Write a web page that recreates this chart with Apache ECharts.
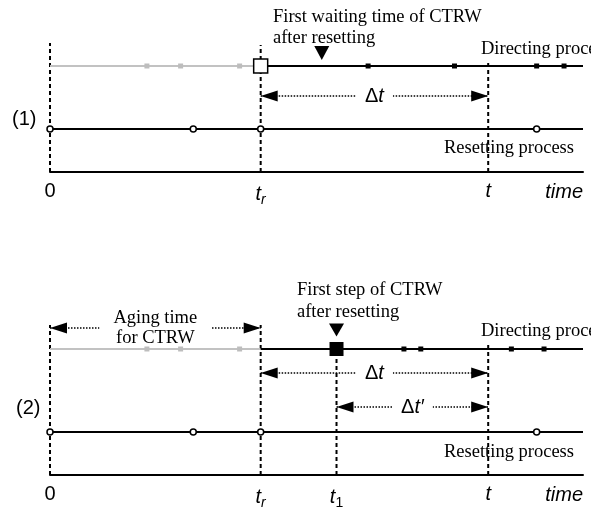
<!DOCTYPE html>
<html>
<head>
<meta charset="utf-8">
<script src="https://cdn.jsdelivr.net/npm/echarts@6/dist/echarts.min.js"></script>
<style>
  html, body { margin: 0; padding: 0; background: #fff; }
  #chart { width: 591px; height: 510px; }
</style>
</head>
<body>
<div id="chart"></div>
<script>
// times on the horizontal axis (arbitrary units, resetting at tReset)
const tStart = 0;
const tReset = 10;
const tFirst = 13.6;
const tObs = 20.8;
const tEnd = 25.3;

// steps of the directing process before resetting (grey, same in both panels)
const preResetSteps = [4.6, 6.2, 9.0];
// steps after resetting
const stepsAfter1 = [15.1, 19.2, 23.1, 24.4];
const stepsAfter2 = [16.8, 17.6, 21.9, 23.45];
// resetting events
const resetEvents = [0, 6.8, 10, 23.1];
// pointer to the first waiting time (panel 1)
const firstWaitMark = 12.9;

// tick labels under each time line
const tickValues1 = [tStart, tReset, tObs];
const tickLabels1 = ['0', '{i|t}{s|r}', '{i|t}'];
const tickValues2 = [tStart, tReset, tFirst, tObs];
const tickLabels2 = ['0', '{i|t}{s|r}', '{i|t}{u|1}', '{i|t}'];

// layout: row heights in px above each panel's time axis
const rows1 = { dir: 106, reset: 43, dt: 76, mark: 119, top0: 129, topR: 127, topT: 109 };
const rows2 = { dir: 126, reset: 43, dt: 102, dtp: 68, aging: 147, mark: 145, top0: 150, topR: 150, top1: 126, topT: 130 };

const SANS = '"Liberation Sans", Arial, sans-serif';
const SERIF = '"Liberation Serif", "Times New Roman", serif';

const chart = echarts.init(document.getElementById('chart'));

function xAxisFor(gridIndex, values, labels) {
    return {
        type: 'value', gridIndex, min: 0, max: tEnd,
        axisLine: { show: true, lineStyle: { color: '#000', width: 2 } },
        axisTick: { show: false },
        splitLine: { show: false },
        axisLabel: {
            customValues: values,
            margin: 9,
            formatter: v => labels[values.indexOf(v)] || '',
            color: '#000',
            fontFamily: SANS,
            fontSize: 20,
            rich: {
                i: { fontFamily: SANS, fontSize: 20, fontStyle: 'italic', color: '#000' },
                s: { fontFamily: SANS, fontSize: 14, fontStyle: 'italic', color: '#000', padding: [12, 0, 0, 0] },
                u: { fontFamily: SANS, fontSize: 14, color: '#000', padding: [12, 0, 0, 0] }
            }
        },
        name: 'time',
        nameLocation: 'end',
        nameGap: 0,
        nameTextStyle: {
            align: 'right', verticalAlign: 'top', padding: [10, 0, 0, 0],
            fontFamily: SANS, fontSize: 20, fontStyle: 'italic', color: '#000'
        }
    };
}

function vline(gridIndex, x, top) {
    return {
        type: 'line', xAxisIndex: gridIndex, yAxisIndex: gridIndex, z: 2,
        data: [[x, 0], [x, top]], symbol: 'none', silent: true,
        lineStyle: { color: '#000', width: 2, type: [4, 3] }
    };
}

function hline(gridIndex, x0, x1, y, color) {
    return {
        type: 'line', xAxisIndex: gridIndex, yAxisIndex: gridIndex, z: 3,
        data: [[x0, y], [x1, y]], symbol: 'none', silent: true,
        lineStyle: { color, width: 2 }
    };
}

function dots(gridIndex, xs, y, symbol, size, itemStyle) {
    return {
        type: 'scatter', xAxisIndex: gridIndex, yAxisIndex: gridIndex, z: 4,
        data: xs.map(x => [x, y]), symbol, symbolSize: size, silent: true,
        itemStyle: Object.assign({ opacity: 1 }, itemStyle)
    };
}

const arrowLabelRich = {
    n: { fontFamily: SANS, fontSize: 20, color: '#000' },
    i: { fontFamily: SANS, fontSize: 20, fontStyle: 'italic', color: '#000' }
};

function arrows(gridIndex, items) {
    return {
        type: 'line', xAxisIndex: gridIndex, yAxisIndex: gridIndex, data: [], silent: true,
        markLine: {
            silent: true,
            z: 1,
            symbol: ['triangle', 'triangle'],
            symbolSize: [11, 17],
            symbolOffset: [[0, 8.5], [0, 8.5]],
            lineStyle: { color: '#000', width: 1.5, type: 'dotted' },
            itemStyle: { color: '#000' },
            label: {
                show: true, position: 'middle', formatter: '{b}',
                distance: 0, verticalAlign: 'middle', align: 'center',
                backgroundColor: '#fff', padding: [0, 9], color: '#000',
                rich: arrowLabelRich
            },
            data: items.map(it => [
                { coord: [it.from, it.y], name: it.text, label: it.label || {} },
                { coord: [it.to, it.y] }
            ])
        }
    };
}

const openCircle = { color: '#fff', borderColor: '#000', borderWidth: 1.5 };

const series = [
    // panel 1
    arrows(0, [
        { from: tReset, to: tObs, y: rows1.dt, text: '{n|Δ}{i|t}' }
    ]),
    vline(0, tStart, rows1.top0),
    vline(0, tReset, rows1.topR),
    vline(0, tObs, rows1.topT),
    hline(0, tStart, tReset, rows1.dir, '#c2c2c2'),
    hline(0, tReset, tEnd, rows1.dir, '#000'),
    hline(0, tStart, tEnd, rows1.reset, '#000'),
    dots(0, preResetSteps, rows1.dir, 'rect', 5, { color: '#bdbdbd' }),
    dots(0, stepsAfter1, rows1.dir, 'rect', 5, { color: '#000' }),
    dots(0, resetEvents, rows1.reset, 'circle', 6, openCircle),
    dots(0, [tReset], rows1.dir, 'rect', 14, { color: '#fff', borderColor: '#000', borderWidth: 1.5 }),
    { ...dots(0, [firstWaitMark], rows1.mark, 'triangle', [15, 14], { color: '#000' }), symbolRotate: 180 },

    // panel 2
    arrows(1, [
        { from: tStart, to: tReset, y: rows2.aging, text: 'Aging time\nfor CTRW',
          label: { fontFamily: SERIF, fontSize: 18.5, lineHeight: 20, padding: [0, 14] } },
        { from: tReset, to: tObs, y: rows2.dt, text: '{n|Δ}{i|t}' },
        { from: tFirst, to: tObs, y: rows2.dtp, text: '{n|Δ}{i|t′}' }
    ]),
    vline(1, tStart, rows2.top0),
    vline(1, tReset, rows2.topR),
    vline(1, tFirst, rows2.top1),
    vline(1, tObs, rows2.topT),
    hline(1, tStart, tReset, rows2.dir, '#c2c2c2'),
    hline(1, tReset, tEnd, rows2.dir, '#000'),
    hline(1, tStart, tEnd, rows2.reset, '#000'),
    dots(1, preResetSteps, rows2.dir, 'rect', 5, { color: '#bdbdbd' }),
    dots(1, stepsAfter2, rows2.dir, 'rect', 5, { color: '#000' }),
    dots(1, resetEvents, rows2.reset, 'circle', 6, openCircle),
    dots(1, [tFirst], rows2.dir, 'rect', 14, { color: '#000' }),
    { ...dots(1, [tFirst], rows2.mark, 'triangle', [15, 13], { color: '#000' }), symbolRotate: 180 }
];

function txt(x, y, text, font, extra) {
    return {
        type: 'text', x, y, silent: true,
        style: Object.assign({ text, font, fill: '#000', verticalAlign: 'middle' }, extra || {})
    };
}

const serifFont = '18.5px ' + SERIF;
const sansFont = '20px ' + SANS;

const option = {
    animation: false,
    backgroundColor: '#fff',
    grid: [
        { left: 50, right: 8, top: 0, height: 172 },
        { left: 50, right: 8, top: 260, height: 215 }
    ],
    xAxis: [
        xAxisFor(0, tickValues1, tickLabels1),
        xAxisFor(1, tickValues2, tickLabels2)
    ],
    yAxis: [
        { type: 'value', gridIndex: 0, min: 0, max: 172, show: false },
        { type: 'value', gridIndex: 1, min: 0, max: 215, show: false }
    ],
    series,
    graphic: [
        txt(12, 119, '(1)', sansFont),
        txt(16, 408, '(2)', sansFont),
        txt(273, 17, 'First waiting time of CTRW\nafter resetting', serifFont, { lineHeight: 21, verticalAlign: 'top', y: -10 }),
        txt(297, 290, 'First step of CTRW\nafter resetting', serifFont, { lineHeight: 22, verticalAlign: 'top', y: -11 }),
        txt(481, 49, 'Directing process', serifFont),
        txt(481, 331, 'Directing process', serifFont),
        txt(444, 148, 'Resetting process', serifFont),
        txt(444, 452, 'Resetting process', serifFont)
    ]
};

chart.setOption(option);
</script>
</body>
</html>
